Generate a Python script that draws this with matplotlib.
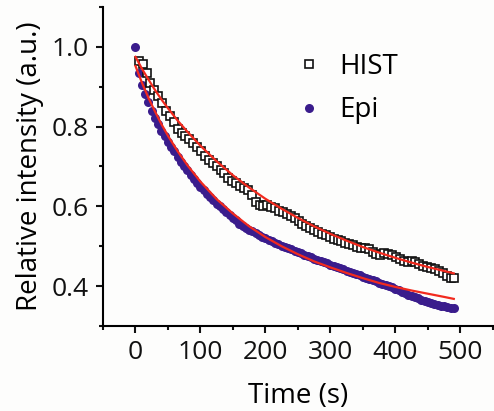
import numpy as np
import matplotlib.pyplot as plt
from matplotlib.ticker import MultipleLocator

plt.rcParams['font.family'] = ['Open Sans', 'DejaVu Sans']

# HIST: sampled every 6 s starting at 5 s
hist_t = np.arange(5, 492, 6)
hist_v = [0.965, 0.958, 0.935, 0.910, 0.892, 0.878, 0.860, 0.840, 0.826, 0.812,
          0.795, 0.785, 0.776, 0.768, 0.758, 0.748, 0.738, 0.727, 0.716, 0.708,
          0.700, 0.692, 0.683, 0.671, 0.664, 0.658, 0.651, 0.646, 0.640, 0.628,
          0.612, 0.604, 0.600, 0.603, 0.599, 0.595, 0.589, 0.585, 0.582, 0.577,
          0.570, 0.563, 0.556, 0.551, 0.545, 0.540, 0.535, 0.531, 0.527, 0.522,
          0.518, 0.515, 0.512, 0.508, 0.505, 0.502, 0.497, 0.496, 0.496, 0.492,
          0.485, 0.480, 0.478, 0.482, 0.481, 0.478, 0.474, 0.468, 0.462, 0.460,
          0.463, 0.460, 0.455, 0.450, 0.447, 0.446, 0.442, 0.438, 0.432, 0.425,
          0.421, 0.420]

# Epi: sampled every 5 s starting at 0 s
epi_t = np.arange(0, 491, 5)
epi_v = [1.000, 0.935, 0.905, 0.882, 0.862, 0.838, 0.822, 0.806, 0.790, 0.777,
         0.762, 0.750, 0.738, 0.724, 0.712, 0.700, 0.690, 0.679, 0.669, 0.658,
         0.649, 0.640, 0.632, 0.623, 0.615, 0.607, 0.600, 0.593, 0.586, 0.579,
         0.572, 0.565, 0.556, 0.551, 0.546, 0.541, 0.537, 0.532, 0.528, 0.524,
         0.520, 0.516, 0.512, 0.509, 0.505, 0.501, 0.498, 0.495, 0.492, 0.489,
         0.486, 0.482, 0.478, 0.475, 0.472, 0.469, 0.466, 0.463, 0.460, 0.457,
         0.454, 0.451, 0.448, 0.445, 0.442, 0.439, 0.436, 0.433, 0.430, 0.427,
         0.424, 0.421, 0.418, 0.415, 0.412, 0.409, 0.406, 0.403, 0.400, 0.397,
         0.394, 0.390, 0.386, 0.382, 0.379, 0.375, 0.372, 0.369, 0.366, 0.363,
         0.360, 0.357, 0.355, 0.353, 0.351, 0.349, 0.347, 0.346, 0.345]

# fitted curves
fit_t = [0, 10, 20, 30, 40, 50, 65, 80, 100, 125, 150, 175, 200, 225, 250,
         275, 300, 325, 350, 375, 400, 425, 450, 475, 490]
hist_fit = [0.975, 0.945, 0.918, 0.892, 0.868, 0.846, 0.815, 0.787, 0.752, 0.713,
            0.678, 0.647, 0.619, 0.594, 0.571, 0.550, 0.531, 0.514, 0.498, 0.484,
            0.471, 0.459, 0.448, 0.438, 0.432]
epi_fit = [0.952, 0.910, 0.872, 0.838, 0.806, 0.777, 0.738, 0.703, 0.662, 0.618,
           0.582, 0.550, 0.523, 0.500, 0.480, 0.462, 0.447, 0.433, 0.420, 0.408,
           0.398, 0.389, 0.381, 0.373, 0.368]

purple = '#3a1c8c'
red = '#f22a1e'

fig = plt.figure(figsize=(4.94, 4.11), dpi=100)
fig.patch.set_facecolor('#fdfdfc')
ax = fig.add_axes([0.2085, 0.2068, 0.789, 0.7762])
ax.set_facecolor('#fdfdfc')

ax.plot(epi_t, epi_v, 'o', color=purple, ms=6.5, mec=purple, mew=0, label='Epi', zorder=2)
ax.plot(hist_t, hist_v, 's', mfc='white', mec='#111111', ms=5.5, mew=1.2, label='HIST', zorder=3)
ax.plot(fit_t, hist_fit, '-', color=red, lw=1.6, zorder=4)
ax.plot(fit_t, epi_fit, '-', color=red, lw=1.6, zorder=4)

ax.set_xlim(-50, 550)
ax.set_ylim(0.3, 1.1)
ax.xaxis.set_major_locator(MultipleLocator(100))
ax.xaxis.set_minor_locator(MultipleLocator(50))
ax.yaxis.set_major_locator(MultipleLocator(0.2))
ax.yaxis.set_minor_locator(MultipleLocator(0.1))
ax.set_xticks([0, 100, 200, 300, 400, 500])
ax.set_yticks([0.4, 0.6, 0.8, 1.0])
ax.set_yticklabels(['0.4', '0.6', '0.8', '1.0'])

for s in ['top', 'right']:
    ax.spines[s].set_visible(False)
for s in ['left', 'bottom']:
    ax.spines[s].set_linewidth(1.5)
ax.tick_params(which='major', direction='out', length=5, width=1.5, labelsize=19, colors='#111111', pad=5)
ax.tick_params(which='minor', direction='out', length=3, width=1.5, colors='#111111')

ax.set_xlabel('Time (s)', fontsize=20, labelpad=12)
ax.set_ylabel('Relative intensity (a.u.)', fontsize=20, labelpad=6)

h, l = ax.get_legend_handles_labels()
leg = ax.legend(h[::-1], l[::-1], loc='upper left', bbox_to_anchor=(0.442, 0.935),
                frameon=False, fontsize=20, handlelength=0.6, handletextpad=0.8,
                labelspacing=0.56, markerscale=1.0)

fig.savefig('out.png', dpi=100, facecolor=fig.get_facecolor())
